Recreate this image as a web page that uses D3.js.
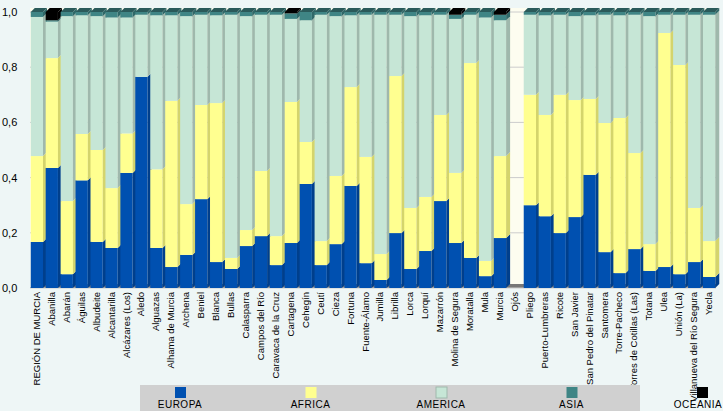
<!DOCTYPE html><html><head><meta charset="utf-8"><script src="https://cdn.jsdelivr.net/npm/d3@7"></script>
<style>body{margin:0;background:#eef6f6}text{font-family:"Liberation Sans",Arial,sans-serif}</style></head><body><svg id="c" width="723" height="411"></svg><script>
const categories=["REGIÓN DE MURCIA","Abanilla","Abarán","Águilas","Albudeite","Alcantarilla","Alcázares (Los)","Aledo","Alguazas","Alhama de Murcia","Archena","Beniel","Blanca","Bullas","Calasparra","Campos del Río","Caravaca de la Cruz","Cartagena","Cehegín","Ceutí","Cieza","Fortuna","Fuente-Álamo","Jumilla","Librilla","Lorca","Lorquí","Mazarrón","Molina de Segura","Moratalla","Mula","Murcia","Ojós","Pliego","Puerto-Lumbreras","Ricote","San Javier","San Pedro del Pinatar","Santomera","Torre-Pacheco","Torres de Cotillas (Las)","Totana","Ulea","Unión (La)","Villanueva del Río Segura","Yecla"];
const europa=[0.167,0.435,0.05,0.39,0.167,0.145,0.417,0.765,0.145,0.076,0.12,0.322,0.094,0.069,0.152,0.188,0.083,0.163,0.377,0.083,0.159,0.37,0.09,0.029,0.199,0.069,0.134,0.315,0.163,0.109,0.043,0.181,0,0.3,0.26,0.199,0.257,0.41,0.13,0.054,0.141,0.062,0.076,0.05,0.094,0.04];
const africa=[0.311,0.398,0.265,0.168,0.333,0.217,0.143,0,0.285,0.602,0.184,0.341,0.576,0.04,0.058,0.236,0.105,0.511,0.152,0.087,0.247,0.358,0.385,0.094,0.569,0.221,0.196,0.312,0.254,0.706,0.055,0.297,0,0.4,0.367,0.501,0.424,0.275,0.468,0.562,0.348,0.097,0.848,0.758,0.196,0.13];
const asia=[0.018,0.005,0.015,0.012,0.015,0.02,0.02,0.01,0.012,0.012,0.015,0.01,0.012,0.01,0.015,0.01,0.01,0.02,0.03,0.01,0.015,0.012,0.01,0.01,0.01,0.015,0.012,0.01,0.015,0.01,0.02,0.02,0,0.01,0.012,0.01,0.015,0.012,0.01,0.012,0.01,0.015,0.01,0.01,0.01,0.01];
const oceania=[0,0.03,0,0,0,0,0,0,0,0,0,0,0,0,0,0,0,0.005,0,0,0,0,0,0,0,0,0,0,0.01,0,0,0.01,0,0,0,0,0,0,0,0,0,0,0,0,0,0];
const seriesNames=["EUROPA","AFRICA","AMERICA","ASIA","OCEANIA"];
const colors=["#0050b0","#ffff90","#c6e6d6","#3f8585","#000000"];
const sides=["#003f8c","#d4d46c","#9fb8ac","#2f6868","#000"];
const tops=["#0050b0","#ffff90","#7a9a88","#2a5a5a","#000"];
const yTicks=[0,0.2,0.4,0.6,0.8,1.0];
const svg=d3.select("#c");
const L=30,R=716,T=12,B=288,dx=4,dy=4;
const x=d3.scaleBand().domain(categories).range([L,R]).paddingInner(0.18).paddingOuter(0.05);
const y=d3.scaleLinear().domain([0,1]).range([B,T]);
svg.append("rect").attr("x",L).attr("y",T-dy).attr("width",R-L).attr("height",B-T+dy).attr("fill","#fdfdf0");
svg.append("path").attr("d",`M${L},${B}L${L+dx},${B-dy}L${R},${B-dy}L${R},${B}Z`).attr("fill","#777");
yTicks.forEach(t=>{svg.append("line").attr("x1",L).attr("x2",R).attr("y1",y(t)).attr("y2",y(t)).attr("stroke","#ccc");
 svg.append("text").attr("x",2).attr("y",y(t)+4).attr("font-size",11).text(d3.format(".1f")(t).replace(".",","));});
categories.forEach((c,i)=>{
 const vals=[europa[i],africa[i],0,asia[i],oceania[i]];
 if(vals[0]+vals[1]===0)return;
 vals[2]=1-vals[0]-vals[1]-vals[3]-vals[4];
 let acc=0;const x0=x(c),w=x.bandwidth();
 vals.forEach((v,k)=>{if(v<=0)return;const y0=y(acc),y1=y(acc+v);acc+=v;
  svg.append("rect").attr("x",x0).attr("y",y1).attr("width",w).attr("height",y0-y1).attr("fill",colors[k]);
  svg.append("path").attr("d",`M${x0+w},${y0}L${x0+w+dx},${y0-dy}L${x0+w+dx},${y1-dy}L${x0+w},${y1}Z`).attr("fill",sides[k]);
  if(acc>0.999||k===4){svg.append("path").attr("d",`M${x0},${y1}L${x0+dx},${y1-dy}L${x0+w+dx},${y1-dy}L${x0+w},${y1}Z`).attr("fill",tops[k]);}
 });
});
categories.forEach(c=>{const cx=x(c)+x.bandwidth()/2+3;
 svg.append("text").attr("transform",`translate(${cx},292) rotate(-90)`).attr("text-anchor","end").attr("font-size",9.5).text(c);});
svg.append("rect").attr("x",140).attr("y",385).attr("width",500).attr("height",26).attr("fill","#d0d0d0");
seriesNames.forEach((n,k)=>{const lx=175+k*130.5;
 svg.append("rect").attr("x",lx).attr("y",387).attr("width",11).attr("height",11).attr("fill",colors[k]).attr("stroke",k===2?"#9fb8ac":"none");
 svg.append("text").attr("x",Math.min(lx+5,698)).attr("y",408).attr("text-anchor","middle").attr("font-size",10).attr("letter-spacing",0.5).text(n);});
</script></body></html>
